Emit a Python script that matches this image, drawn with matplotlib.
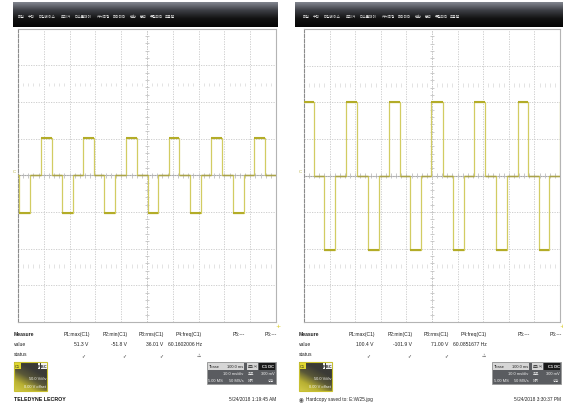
import numpy as np
import matplotlib
matplotlib.use('Agg')
import matplotlib.pyplot as plt
from matplotlib.patches import Rectangle
from matplotlib.colors import LinearSegmentedColormap
from matplotlib import font_manager

# ---------------- data ----------------
menu_items = ['파일', '수직', '타임베이스', '트리거', '디스플레이', '커서측정',
              '파라미터', '연산', '분석', '유틸리티', '도움말']
param_names = ['P1:max(C1)', 'P2:min(C1)', 'P3:rms(C1)', 'P4:freq(C1)', 'P5:---', 'P6:---']
left_values = ['51.3 V', '-51.8 V', '36.01 V', '60.1602006 Hz']
right_values = ['100.4 V', '-101.9 V', '71.00 V', '60.0851677 Hz']
status_marks = ['\u2713', '\u2713', '\u2713', '\u26a0']

# left trace (time in ms, 10 ms/div, 50 V/div)
left_max, left_min = 51.3, -51.8
left_edges = [0.39, 4.65, 8.80, 13.06, 17.05, 21.2, 25.31, 29.46, 33.45, 37.71,
              41.86, 46.0, 50.39, 54.38, 58.41, 62.52, 66.67, 70.93, 74.92, 79.07,
              83.33, 87.48, 91.59, 95.74]
left_states = [0, -1, 0, 1, 0, -1, 0, 1, 0, -1, 0, 1, 0, -1, 0, 1, 0, -1, 0, 1,
               0, -1, 0, 1, 0]

# right trace
right_max, right_min = 100.4, -101.9
right_edges = [4.02, 7.93, 12.23, 16.52, 20.59, 24.88, 29.18, 33.09, 37.38, 41.52,
               45.7, 49.73, 54.18, 58.20, 62.38, 66.52, 70.82, 75.0, 79.18, 83.48,
               87.5, 91.68, 95.82, 99.9]
right_states = [1, 0, -1, 0, 1, 0, -1, 0, 1, 0, -1, 0, 1, 0, -1, 0, 1, 0, -1, 0,
                1, 0, -1, 0, 1]

left_footer = 'TELEDYNE LECROY'
left_date = '5/24/2018 1:19:45 AM'
right_footer = 'Hardcopy saved to: E:\\W25.jpg'
right_date = '5/24/2018 3:30:37 PM'

# ---------------- fonts ----------------
try:
    font_manager.findfont(font_manager.FontProperties(family='Liberation Sans Narrow'),
                          fallback_to_default=False)
    NARROW = ['Liberation Sans Narrow', 'DejaVu Sans']
    K = 1.2
except Exception:
    NARROW = ['Liberation Sans', 'DejaVu Sans']
    K = 1.0
KR = ['Noto Sans CJK KR', 'DejaVu Sans']

# ---------------- figure ----------------
W, H = 563, 406
fig = plt.figure(figsize=(W / 100, H / 100), dpi=100)
fig.patch.set_facecolor('white')

ov = fig.add_axes([0, 0, 1, 1], zorder=0)
ov.set_xlim(0, W)
ov.set_ylim(H, 0)
ov.axis('off')

TRACE_THIN = '#d2cc62'
TRACE_BOLD = '#b3ac28'
TRACE_ZERO = '#a9a24a'


def scope_axes(x0, x1, y0, y1, vmax, vmin, edges, states):
    ax = fig.add_axes([x0 / W, 1 - y1 / H, (x1 - x0) / W, (y1 - y0) / H], zorder=2)
    ax.set_facecolor('white')
    ax.set_xlim(0, 100)
    ax.set_ylim(-200, 200)
    ax.set_xticks(np.arange(0, 101, 10))
    ax.set_yticks(np.arange(-200, 201, 50))
    ax.tick_params(length=0, labelbottom=False, labelleft=False)
    ax.grid(True, color='#c8c8c8', lw=0.6, ls=(0, (1.5, 1.5)))
    for s in ax.spines.values():
        s.set_color('#b4b4b4')
        s.set_linewidth(0.8)
    ax.spines['left'].set_color('#8c8c8c')
    ax.spines['left'].set_linestyle((0, (3, 1.5)))
    # center axes with minor ticks
    ax.axhline(0, color='#a8a8a8', lw=0.8, zorder=1)
    ax.axvline(50, color='#b8b8b8', lw=0.6, ls=(0, (1.5, 1.5)), zorder=1)
    minor_t = np.arange(2, 100, 2)
    ax.vlines(minor_t, -3.5, 3.5, color='#b0b0b0', lw=0.5, zorder=1)
    ax.vlines(minor_t[minor_t % 10 != 0], 121, 126, color='#d8d8d8', lw=0.5, zorder=1)
    ax.vlines(minor_t[minor_t % 10 != 0], -126, -121, color='#d8d8d8', lw=0.5, zorder=1)
    minor_v = np.arange(-190, 200, 10)
    ax.hlines(minor_v, 49.4, 50.6, color='#b8b8b8', lw=0.5, zorder=1)

    levels = {1: vmax, -1: vmin, 0: 0.0}
    xs = [0.0] + list(edges) + [100.0]
    ys = [levels[s] for s in states] + [levels[states[-1]]]
    ax.step(xs, ys, where='post', color=TRACE_THIN, lw=0.9, zorder=3)
    for i, s in enumerate(states):
        a, b = xs[i], xs[i + 1]
        if s == 0:
            ax.hlines(0, a, b, color=TRACE_ZERO, lw=1.0, zorder=4)
        else:
            ax.hlines(levels[s], a, b, color=TRACE_BOLD, lw=1.5, zorder=4)
    return ax


scope_axes(18, 276, 29.5, 323, left_max, left_min, left_edges, left_states)
scope_axes(304, 560, 30, 323, right_max, right_min, right_edges, right_states)

# ---------------- overlay decorations ----------------
bar_cmap = LinearSegmentedColormap.from_list('bar', ['#82868f', '#3c3e44', '#121212', '#050505'])
grad = np.linspace(0, 1, 64).reshape(-1, 1)
box_cmap = LinearSegmentedColormap.from_list('box', ['#3a3a36', '#5a5838', '#b8b032', '#d2ca48'])
gx, gy = np.meshgrid(np.linspace(0, 1, 60), np.linspace(0, 1, 60))
box_grad = np.clip(gy * 0.9 + (1 - gx) * 0.55 - 0.45, 0, 1)

menu_offsets = [15.7, 26, 37, 59, 73, 95, 111, 128, 138, 148, 163]
panels = [
    dict(dx=0, bar=(13, 278), values=left_values, grid=(18, 276)),
    dict(dx=285, bar=(295, 563), values=right_values, grid=(304, 560)),
]

fs = 3.6 * K
tfs = 2.9 * K
for p in panels:
    dx = p['dx']
    b0, b1 = p['bar']
    ov.imshow(grad, extent=[b0, b1, 28, 3], aspect='auto', cmap=bar_cmap,
              interpolation='bilinear', zorder=1)
    for name, mx in zip(menu_items, menu_offsets):
        ov.text(mx + dx + 2, 16.5, name, family=KR, fontsize=2.6, color='#e8e8e8',
                ha='left', va='center', zorder=3)
    # channel marker and trigger marker
    ov.text(p['grid'][0] - 3.5, 172, 'C', family=NARROW, fontsize=3.2, color='#b8b040',
            ha='center', va='center', zorder=3)
    ov.text(p['grid'][1] + 1.5, 327, '+', family='DejaVu Sans', fontsize=4.5, color='#d8c818',
            ha='center', va='center', zorder=3)

    # measurement table
    ov.text(14 + dx, 335, 'Measure', family=NARROW, fontsize=fs, color='#222222',
            ha='left', va='center', fontweight='bold')
    ov.text(14 + dx, 345, 'value', family=NARROW, fontsize=fs, color='#222222',
            ha='left', va='center')
    ov.text(14 + dx, 355, 'status', family=NARROW, fontsize=fs, color='#222222',
            ha='left', va='center')
    col_right = [90, 128, 164, 202, 245, 277]
    for name, cx in zip(param_names, col_right):
        ov.text(cx + dx, 335, name, family=NARROW, fontsize=fs, color='#222222',
                ha='right', va='center')
    for val, cx in zip(p['values'], [88, 127, 163, 202]):
        ov.text(cx + dx, 345, val, family=NARROW, fontsize=fs, color='#222222',
                ha='right', va='center')
    for mk, cx in zip(status_marks, [83, 124, 161, 199]):
        ov.text(cx + dx, 355.5, mk, family='DejaVu Sans', fontsize=3.4, color='#333333',
                ha='center', va='center')

    # C1 channel box
    ov.imshow(box_grad, extent=[14 + dx, 47 + dx, 392, 363], aspect='auto', cmap=box_cmap,
              interpolation='bilinear', zorder=1)
    ov.add_patch(Rectangle((14 + dx, 363), 33, 29, fill=False, ec='#c8c030', lw=0.8, zorder=2))
    ov.add_patch(Rectangle((14.5 + dx, 363.5), 6, 6.5, fc='#e0d830', ec='none', zorder=2))
    ov.text(17.5 + dx, 366.8, 'C1', family=NARROW, fontsize=2.8 * K, color='#222222',
            ha='center', va='center', zorder=3)
    for j, ch in enumerate(['F', 'B', 'C']):
        ov.add_patch(Rectangle((37.5 + dx + j * 3.2, 364), 2.9, 5.5, fc='#f2f2f2', ec='none', zorder=2))
        ov.text(39 + dx + j * 3.2, 366.8, ch, family=NARROW, fontsize=2.6 * K, color='#111111',
                ha='center', va='center', fontweight='bold', zorder=3)
    ov.text(46 + dx, 379.5, '50.0 V/div', family=NARROW, fontsize=tfs, color='#f4f4f4',
            ha='right', va='center', zorder=3)
    ov.text(46 + dx, 387.5, '0.00 V offset', family=NARROW, fontsize=tfs, color='#f4f4f4',
            ha='right', va='center', zorder=3)

    # timebase / trigger box
    tx = 207 + dx
    ov.add_patch(Rectangle((tx, 363), 69, 21.5, fc='#5a5c60', ec='#9a9a9a', lw=0.6, zorder=1))
    ov.add_patch(Rectangle((tx + 1, 364), 36, 6.5, fc='#d6d6d6', ec='none', zorder=2))
    ov.add_patch(Rectangle((tx + 38.5, 364), 0.8, 20, fc='#c8c8c8', ec='none', zorder=2))
    ov.add_patch(Rectangle((tx + 40, 364), 11, 6.5, fc='#d6d6d6', ec='none', zorder=2))
    ov.add_patch(Rectangle((tx + 52, 364), 16, 6.5, fc='#1a1a1a', ec='none', zorder=2))
    ov.text(tx + 2, 367.3, 'Tbase', family=NARROW, fontsize=tfs, color='#222222', ha='left', va='center', zorder=3)
    ov.text(tx + 36.5, 367.3, '100.0 ms', family=NARROW, fontsize=tfs, color='#222222', ha='right', va='center', zorder=3)
    ov.text(tx + 41, 367.3, '트리거', family=KR, fontsize=2.5, color='#222222', ha='left', va='center', zorder=3)
    ov.text(tx + 67.5, 367.3, 'C1 DC', family=NARROW, fontsize=tfs, color='#f4f4f4', ha='right', va='center', fontweight='bold', zorder=3)
    ov.text(tx + 36.5, 374.5, '10.0 ms/div', family=NARROW, fontsize=tfs, color='#f0f0f0', ha='right', va='center', zorder=3)
    ov.text(tx + 41, 374.5, '오토', family=KR, fontsize=2.5, color='#f0f0f0', ha='left', va='center', zorder=3)
    ov.text(tx + 67.5, 374.5, '300 mV', family=NARROW, fontsize=tfs, color='#f0f0f0', ha='right', va='center', zorder=3)
    ov.text(tx + 1.5, 381.3, '5.00 MS', family=NARROW, fontsize=tfs, color='#f0f0f0', ha='left', va='center', zorder=3)
    ov.text(tx + 36.5, 381.3, '50 MS/s', family=NARROW, fontsize=tfs, color='#f0f0f0', ha='right', va='center', zorder=3)
    ov.text(tx + 41, 381.3, '에지', family=KR, fontsize=2.5, color='#f0f0f0', ha='left', va='center', zorder=3)
    ov.text(tx + 67.5, 381.3, '상승', family=KR, fontsize=2.5, color='#f0f0f0', ha='right', va='center', zorder=3)

# footers
ov.text(14, 399.5, left_footer, family=NARROW, fontsize=3.8 * K, color='#111111',
        ha='left', va='center', fontweight='bold')
ov.text(276, 399.5, left_date, family=NARROW, fontsize=3.4 * K, color='#222222',
        ha='right', va='center')
ov.text(301.5, 400, '\u25C9', family='DejaVu Sans', fontsize=4.0, color='#555555',
        ha='center', va='center')
ov.text(306, 400, right_footer, family=NARROW, fontsize=3.4 * K, color='#222222',
        ha='left', va='center')
ov.text(561, 400, right_date, family=NARROW, fontsize=3.4 * K, color='#222222',
        ha='right', va='center')

fig.savefig('out.png', dpi=100)
